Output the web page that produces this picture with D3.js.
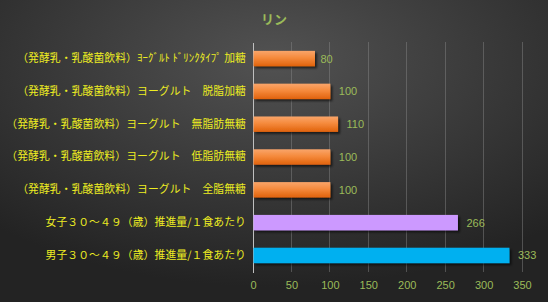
<!DOCTYPE html>
<html>
<head>
<meta charset="utf-8">
<script src="https://cdn.jsdelivr.net/npm/d3@7"></script>
<style>
  body { margin: 0; background: #333; }
  svg { display: block; }
</style>
</head>
<body>
<div id="chart-area"></div>
<script>
// data
const categories = [
  "（発酵乳・乳酸菌飲料）ﾖｰｸﾞﾙﾄ ﾄﾞﾘﾝｸﾀｲﾌﾟ 加糖",
  "（発酵乳・乳酸菌飲料）ヨーグルト　脱脂加糖",
  "（発酵乳・乳酸菌飲料）ヨーグルト　無脂肪無糖",
  "（発酵乳・乳酸菌飲料）ヨーグルト　低脂肪無糖",
  "（発酵乳・乳酸菌飲料）ヨーグルト　全脂無糖",
  "女子３０～４９（歳）推進量/１食あたり",
  "男子３０～４９（歳）推進量/１食あたり"
]
const values = [80, 100, 110, 100, 100, 266, 333]
const barColors = ["orange", "orange", "orange", "orange", "orange", "#cc99ff", "#00b0f0"]
const xTicks = [0, 50, 100, 150, 200, 250, 300, 350]
const title = "リン"

const W = 548, H = 302
const MARGIN = { LEFT: 253, RIGHT: 26, TOP: 42, BOTTOM: 30 }
const WIDTH = W - MARGIN.LEFT - MARGIN.RIGHT
const HEIGHT = H - MARGIN.TOP - MARGIN.BOTTOM

const svg = d3.select("#chart-area").append("svg")
  .attr("width", W)
  .attr("height", H)

const defs = svg.append("defs")
const bg = defs.append("radialGradient")
  .attr("id", "bg")
  .attr("cx", "50%").attr("cy", "20%").attr("r", "75%")
bg.append("stop").attr("offset", "0%").attr("stop-color", "#525252")
bg.append("stop").attr("offset", "100%").attr("stop-color", "#232323")

const og = defs.append("linearGradient")
  .attr("id", "orange")
  .attr("x1", 0).attr("y1", 0).attr("x2", 0).attr("y2", 1)
og.append("stop").attr("offset", "0%").attr("stop-color", "#f9a56a")
og.append("stop").attr("offset", "45%").attr("stop-color", "#f58a3c")
og.append("stop").attr("offset", "100%").attr("stop-color", "#e0620c")

const sh = defs.append("filter").attr("id", "shadow")
  .attr("x", "-10%").attr("y", "-30%").attr("width", "130%").attr("height", "180%")
sh.append("feDropShadow")
  .attr("dx", 2).attr("dy", 2).attr("stdDeviation", 1.2)
  .attr("flood-color", "#000").attr("flood-opacity", 0.6)

svg.append("rect")
  .attr("width", W).attr("height", H)
  .attr("fill", "url(#bg)")

// title
svg.append("text")
  .attr("x", 274)
  .attr("y", 24)
  .attr("text-anchor", "middle")
  .attr("font-family", "Noto Sans CJK JP")
  .attr("font-size", "13px")
  .attr("font-weight", "bold")
  .attr("fill", "#9bbb59")
  .text(title)

const g = svg.append("g")
  .attr("transform", `translate(${MARGIN.LEFT}, ${MARGIN.TOP})`)

const x = d3.scaleLinear()
  .domain([0, 350])
  .range([0, WIDTH])

const y = d3.scaleBand()
  .domain(categories)
  .range([0, HEIGHT])
  .paddingInner(0.53)
  .paddingOuter(0.27)

// grid
g.selectAll(".grid").data(xTicks.slice(1)).enter().append("line")
  .attr("x1", d => x(d)).attr("x2", d => x(d))
  .attr("y1", 0).attr("y2", HEIGHT)
  .attr("stroke", "#8a8a8a")
  .attr("stroke-opacity", 0.45)
  .attr("stroke-width", 1)
  .attr("shape-rendering", "crispEdges")

// X axis
const xAxisCall = d3.axisBottom(x)
  .tickValues(xTicks)
  .tickSize(0)
  .tickPadding(9)
const xAxis = g.append("g")
  .attr("transform", `translate(0, ${HEIGHT})`)
  .call(xAxisCall)
xAxis.select(".domain").remove()
xAxis.selectAll("text")
  .attr("fill", "#9bbb59")
  .attr("font-family", "Liberation Sans")
  .attr("font-size", "11px")

// Y axis
const yAxisCall = d3.axisLeft(y).tickSize(0).tickPadding(7)
const yAxis = g.append("g").call(yAxisCall)
yAxis.select(".domain")
  .attr("stroke", "#bfbfbf")
  .attr("shape-rendering", "crispEdges")
yAxis.selectAll("text")
  .attr("fill", "#eded22")
  .attr("font-family", "Noto Sans CJK JP")
  .attr("font-size", "10.8px")
  .attr("letter-spacing", "0.1px")

// bars
g.selectAll(".bar").data(values).enter().append("rect")
  .attr("x", 0.5)
  .attr("y", (d, i) => y(categories[i]))
  .attr("width", d => x(d))
  .attr("height", y.bandwidth())
  .attr("fill", (d, i) => barColors[i] === "orange" ? "url(#orange)" : barColors[i])
  .attr("filter", "url(#shadow)")

// value labels
g.selectAll(".val").data(values).enter().append("text")
  .attr("x", d => x(d) + (d >= 100 ? 9 : 6))
  .attr("y", (d, i) => y(categories[i]) + y.bandwidth() / 2 + 4)
  .attr("fill", "#9bbb59")
  .attr("font-family", "Liberation Sans")
  .attr("font-size", "11px")
  .text(d => d)
</script>
</body>
</html>
